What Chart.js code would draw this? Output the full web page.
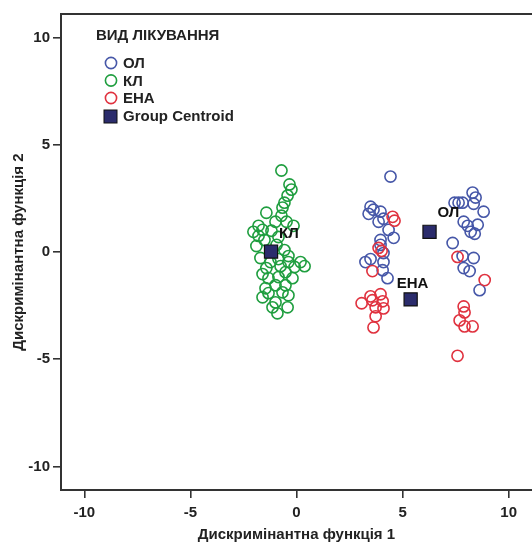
<!DOCTYPE html>
<html>
<head>
<meta charset="utf-8">
<script src="https://cdn.jsdelivr.net/npm/chart.js@4.4.1/dist/chart.umd.min.js"></script>
<style>
  html, body { margin: 0; padding: 0; background: #fff; }
  #wrap { width: 532px; height: 551px; }
</style>
</head>
<body>
<div id="wrap"><canvas id="chart" width="532" height="551"></canvas></div>
<script>
// ---------- data ----------
const groupNames = ["ОЛ", "КЛ", "ЕНА"];
const legendTitle = "ВИД ЛІКУВАННЯ";
const centroidName = "Group Centroid";
const xTitle = "Дискримінантна функція 1";
const yTitle = "Дискримінантна функція 2";
const tickValues = [-10, -5, 0, 5, 10];

// ОЛ (blue)
const pointsOL = [
  [4.43,3.52],[3.49,2.11],[3.63,1.97],[3.96,1.88],[3.40,1.78],[3.87,1.41],[4.10,1.55],
  [4.34,1.03],[4.58,0.66],[3.96,0.56],[3.96,0.33],[4.10,-0.05],[3.25,-0.47],[3.49,-0.33],
  [4.10,-0.47],[4.06,-0.85],[4.29,-1.22],
  [8.30,2.77],[8.44,2.54],[7.45,2.30],[7.64,2.30],[7.83,2.30],[8.35,2.25],[8.82,1.88],
  [7.88,1.41],[8.07,1.22],[8.54,1.27],[8.21,0.94],[8.40,0.85],[7.36,0.42],[7.83,-0.19],
  [8.35,-0.28],[7.88,-0.75],[8.16,-0.89],[8.63,-1.78]
];
// КЛ (green)
const pointsKL = [
  [-0.71,3.80],[-0.33,3.15],[-0.24,2.91],[-0.42,2.63],[-0.57,2.30],[-0.66,2.07],[-1.42,1.83],
  [-0.71,1.69],[-0.99,1.41],[-0.47,1.41],[-0.14,1.22],[-2.03,0.94],[-1.79,0.75],[-1.51,0.56],
  [-1.18,0.99],[-0.85,0.70],[-1.89,0.28],[-0.94,0.33],[-0.57,0.09],[-1.70,-0.28],[-0.38,-0.19],
  [0.19,-0.47],[0.38,-0.66],[-0.09,-0.70],[-0.38,-0.47],[-0.85,-0.33],[-0.52,-0.94],[-1.60,-1.03],
  [-1.32,-1.22],[-0.85,-1.17],[-0.19,-1.22],[-0.99,-1.55],[-0.52,-1.55],[-1.46,-1.69],[-1.60,-2.11],
  [-1.32,-1.92],[-0.66,-1.88],[-0.38,-2.02],[-0.99,-2.35],[-1.13,-2.58],[-0.42,-2.58],[-0.90,-2.86],
  [-1.23,-0.47],[-1.42,-0.75],[-0.75,-0.66],[-1.79,1.22],[-1.60,1.03]
];
// ЕНА (red)
const pointsENA = [
  [4.53,1.64],[4.62,1.46],[3.87,0.19],[4.01,0.05],[3.58,-0.89],[3.07,-2.39],[3.49,-2.07],
  [3.96,-1.97],[3.58,-2.25],[4.06,-2.30],[3.73,-2.58],[4.10,-2.63],[3.73,-3.00],[3.63,-3.52],
  [7.59,-0.23],[8.87,-1.31],[7.88,-2.54],[7.92,-2.82],[7.69,-3.19],[7.92,-3.47],[8.30,-3.47],
  [7.59,-4.84]
];
// group centroids, same order as groupNames
const centroidX = [6.27, -1.2, 5.38];
const centroidY = [0.94, 0.02, -2.21];

// ---------- styles ----------
const FONT = "'Liberation Sans', Arial, sans-serif";
const colors = ["#4657a8", "#1f9e3f", "#e0323f"];
const centroidFill = "#2b2c6c";
const labelOffsets = [[8, -19], [8, -18], [-14, -16]]; // px from centroid to label left/middle

const toXY = arr => arr.map(p => ({ x: p[0], y: p[1] }));

const scatterSet = (name, pts, color) => ({
  label: name,
  data: toXY(pts),
  pointStyle: "circle",
  pointRadius: 5.6,
  pointHoverRadius: 5.6,
  pointBorderWidth: 1.6,
  borderColor: color,
  backgroundColor: "rgba(0,0,0,0)",
  order: 2
});

// legend + centroid labels + top frame
const decorPlugin = {
  id: "decor",
  afterDatasetsDraw(chart) {
    const ctx = chart.ctx;
    const a = chart.chartArea;
    const xs = chart.scales.x, ys = chart.scales.y;
    ctx.save();
    ctx.strokeStyle = "#333";
    ctx.lineWidth = 2;
    ctx.beginPath();
    ctx.moveTo(a.left, a.top);
    ctx.lineTo(a.right, a.top);
    ctx.stroke();

    // centroid labels
    ctx.fillStyle = "#111";
    ctx.font = "bold 15px " + FONT;
    ctx.textBaseline = "middle";
    ctx.textAlign = "left";
    groupNames.forEach((n, i) => {
      const px = xs.getPixelForValue(centroidX[i]);
      const py = ys.getPixelForValue(centroidY[i]);
      ctx.fillText(n, px + labelOffsets[i][0], py + labelOffsets[i][1]);
    });

    // legend
    ctx.fillStyle = "#222";
    ctx.font = "bold 15px " + FONT;
    ctx.fillText(legendTitle, 96, 36);
    groupNames.forEach((n, i) => {
      const y = 63 + i * 17.5;
      ctx.beginPath();
      ctx.arc(111, y, 5.6, 0, Math.PI * 2);
      ctx.strokeStyle = colors[i];
      ctx.lineWidth = 1.6;
      ctx.stroke();
      ctx.fillStyle = "#222";
      ctx.fillText(n, 123, y + 1);
    });
    ctx.fillStyle = centroidFill;
    ctx.fillRect(104, 110, 13, 13);
    ctx.strokeStyle = "#111";
    ctx.lineWidth = 1;
    ctx.strokeRect(104, 110, 13, 13);
    ctx.fillStyle = "#222";
    ctx.fillText(centroidName, 123, 117);
    ctx.restore();
  }
};

// no extra room for the overhanging end tick labels
const noPad = s => {
  s.paddingLeft = s.paddingRight = s.paddingTop = s.paddingBottom = 0;
};

const axisCommon = {
  type: "linear",
  min: -11.1,
  max: 11.1,
  afterBuildTicks: s => { s.ticks = tickValues.map(v => ({ value: v })); },
  grid: { drawOnChartArea: false, drawTicks: true, tickLength: 8, color: "#333", lineWidth: 1.6 },
  border: { display: true, color: "#333", width: 2 },
  ticks: { color: "#222", font: { family: FONT, size: 15, weight: "bold" }, padding: 3 },
  title: { display: true, color: "#222", font: { family: FONT, size: 15, weight: "bold" } }
};

new Chart(document.getElementById("chart"), {
  type: "scatter",
  data: {
    datasets: [
      {
        label: centroidName,
        data: centroidX.map((x, i) => ({ x, y: centroidY[i] })),
        pointStyle: "rect",
        pointRadius: 9.3,
        pointHoverRadius: 9.3,
        pointBorderWidth: 1.2,
        borderColor: "#111",
        backgroundColor: centroidFill,
        order: 0
      },
      scatterSet(groupNames[2], pointsENA, colors[2]),
      scatterSet(groupNames[0], pointsOL, colors[0]),
      scatterSet(groupNames[1], pointsKL, colors[1])
    ]
  },
  options: {
    responsive: false,
    animation: false,
    layout: { autoPadding: false, padding: { top: 14, right: 0, left: 0, bottom: 0 } },
    plugins: { legend: { display: false }, tooltip: { enabled: false } },
    scales: {
      x: {
        ...axisCommon,
        ticks: { ...axisCommon.ticks, padding: 6 },
        title: { ...axisCommon.title, text: xTitle, padding: { top: 12, bottom: 7 } },
        afterFit: s => { s.height = 61; noPad(s); }
      },
      y: {
        ...axisCommon,
        title: { ...axisCommon.title, text: yTitle, padding: { top: 10, bottom: 4 } },
        afterFit: s => { s.width = 61; noPad(s); }
      }
    }
  },
  plugins: [decorPlugin]
});
</script>
</body>
</html>
